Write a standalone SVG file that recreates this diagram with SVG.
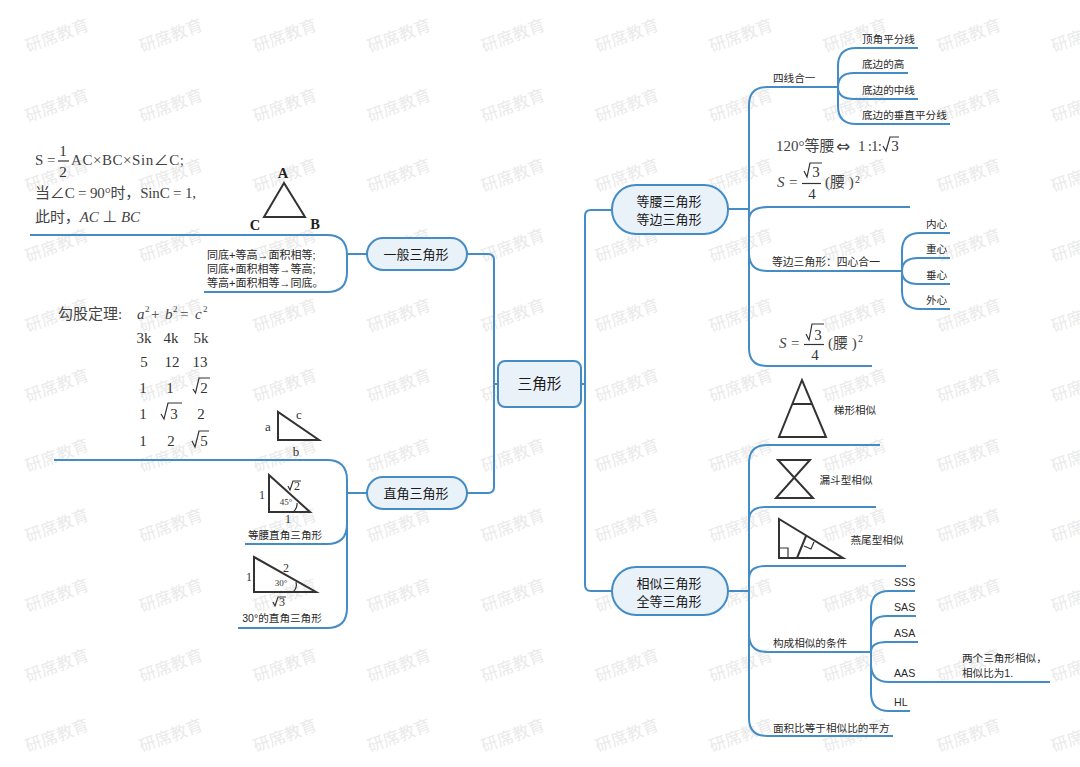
<svg xmlns="http://www.w3.org/2000/svg" width="1080" height="767" viewBox="0 0 1080 767">
<style>
text{font-family:"Liberation Sans","Noto Sans CJK SC",sans-serif;fill:#222}
.wm{font-size:16.5px;fill:#eaeaea;text-anchor:middle}
.n{fill:#e9f1f9;stroke:#438cc6;stroke-width:2}
.nt{font-size:13px;text-anchor:middle;fill:#1a1a1a}
.c{fill:none;stroke:#438cc6;stroke-width:2}
.t{font-size:10.6px;fill:#2a2a2a}
.tm{font-size:10.6px;fill:#2a2a2a;text-anchor:middle}
.m{font-family:"Liberation Serif","Noto Sans CJK SC",serif;font-size:15px;fill:#444}
.mc{font-family:"Liberation Serif","Noto Sans CJK SC",serif;font-size:15px;fill:#333;text-anchor:middle}
.i{font-style:italic}
.s{fill:none;stroke:#333;stroke-width:2}
.s1{fill:none;stroke:#333;stroke-width:1.2}
.l{font-family:"Liberation Serif",serif;font-size:12px;fill:#333;text-anchor:middle}
.b{font-family:"Liberation Serif",serif;font-size:14.5px;font-weight:bold;fill:#222;text-anchor:middle}
</style>
<rect width="1080" height="767" fill="#fff"/>
<g id="watermark" transform="translate(2,1)">
<text class="wm" transform="translate(57,40) rotate(-20)">研席教育</text><text class="wm" transform="translate(171,40) rotate(-20)">研席教育</text><text class="wm" transform="translate(285,40) rotate(-20)">研席教育</text><text class="wm" transform="translate(399,40) rotate(-20)">研席教育</text><text class="wm" transform="translate(513,40) rotate(-20)">研席教育</text><text class="wm" transform="translate(627,40) rotate(-20)">研席教育</text><text class="wm" transform="translate(741,40) rotate(-20)">研席教育</text><text class="wm" transform="translate(855,40) rotate(-20)">研席教育</text><text class="wm" transform="translate(969,40) rotate(-20)">研席教育</text><text class="wm" transform="translate(1083,40) rotate(-20)">研席教育</text>
<text class="wm" transform="translate(57,110) rotate(-20)">研席教育</text><text class="wm" transform="translate(171,110) rotate(-20)">研席教育</text><text class="wm" transform="translate(285,110) rotate(-20)">研席教育</text><text class="wm" transform="translate(399,110) rotate(-20)">研席教育</text><text class="wm" transform="translate(513,110) rotate(-20)">研席教育</text><text class="wm" transform="translate(627,110) rotate(-20)">研席教育</text><text class="wm" transform="translate(741,110) rotate(-20)">研席教育</text><text class="wm" transform="translate(855,110) rotate(-20)">研席教育</text><text class="wm" transform="translate(969,110) rotate(-20)">研席教育</text><text class="wm" transform="translate(1083,110) rotate(-20)">研席教育</text>
<text class="wm" transform="translate(57,180) rotate(-20)">研席教育</text><text class="wm" transform="translate(171,180) rotate(-20)">研席教育</text><text class="wm" transform="translate(285,180) rotate(-20)">研席教育</text><text class="wm" transform="translate(399,180) rotate(-20)">研席教育</text><text class="wm" transform="translate(513,180) rotate(-20)">研席教育</text><text class="wm" transform="translate(627,180) rotate(-20)">研席教育</text><text class="wm" transform="translate(741,180) rotate(-20)">研席教育</text><text class="wm" transform="translate(855,180) rotate(-20)">研席教育</text><text class="wm" transform="translate(969,180) rotate(-20)">研席教育</text><text class="wm" transform="translate(1083,180) rotate(-20)">研席教育</text>
<text class="wm" transform="translate(57,250) rotate(-20)">研席教育</text><text class="wm" transform="translate(171,250) rotate(-20)">研席教育</text><text class="wm" transform="translate(285,250) rotate(-20)">研席教育</text><text class="wm" transform="translate(399,250) rotate(-20)">研席教育</text><text class="wm" transform="translate(513,250) rotate(-20)">研席教育</text><text class="wm" transform="translate(627,250) rotate(-20)">研席教育</text><text class="wm" transform="translate(741,250) rotate(-20)">研席教育</text><text class="wm" transform="translate(855,250) rotate(-20)">研席教育</text><text class="wm" transform="translate(969,250) rotate(-20)">研席教育</text><text class="wm" transform="translate(1083,250) rotate(-20)">研席教育</text>
<text class="wm" transform="translate(57,320) rotate(-20)">研席教育</text><text class="wm" transform="translate(171,320) rotate(-20)">研席教育</text><text class="wm" transform="translate(285,320) rotate(-20)">研席教育</text><text class="wm" transform="translate(399,320) rotate(-20)">研席教育</text><text class="wm" transform="translate(513,320) rotate(-20)">研席教育</text><text class="wm" transform="translate(627,320) rotate(-20)">研席教育</text><text class="wm" transform="translate(741,320) rotate(-20)">研席教育</text><text class="wm" transform="translate(855,320) rotate(-20)">研席教育</text><text class="wm" transform="translate(969,320) rotate(-20)">研席教育</text><text class="wm" transform="translate(1083,320) rotate(-20)">研席教育</text>
<text class="wm" transform="translate(57,390) rotate(-20)">研席教育</text><text class="wm" transform="translate(171,390) rotate(-20)">研席教育</text><text class="wm" transform="translate(285,390) rotate(-20)">研席教育</text><text class="wm" transform="translate(399,390) rotate(-20)">研席教育</text><text class="wm" transform="translate(513,390) rotate(-20)">研席教育</text><text class="wm" transform="translate(627,390) rotate(-20)">研席教育</text><text class="wm" transform="translate(741,390) rotate(-20)">研席教育</text><text class="wm" transform="translate(855,390) rotate(-20)">研席教育</text><text class="wm" transform="translate(969,390) rotate(-20)">研席教育</text><text class="wm" transform="translate(1083,390) rotate(-20)">研席教育</text>
<text class="wm" transform="translate(57,460) rotate(-20)">研席教育</text><text class="wm" transform="translate(171,460) rotate(-20)">研席教育</text><text class="wm" transform="translate(285,460) rotate(-20)">研席教育</text><text class="wm" transform="translate(399,460) rotate(-20)">研席教育</text><text class="wm" transform="translate(513,460) rotate(-20)">研席教育</text><text class="wm" transform="translate(627,460) rotate(-20)">研席教育</text><text class="wm" transform="translate(741,460) rotate(-20)">研席教育</text><text class="wm" transform="translate(855,460) rotate(-20)">研席教育</text><text class="wm" transform="translate(969,460) rotate(-20)">研席教育</text><text class="wm" transform="translate(1083,460) rotate(-20)">研席教育</text>
<text class="wm" transform="translate(57,530) rotate(-20)">研席教育</text><text class="wm" transform="translate(171,530) rotate(-20)">研席教育</text><text class="wm" transform="translate(285,530) rotate(-20)">研席教育</text><text class="wm" transform="translate(399,530) rotate(-20)">研席教育</text><text class="wm" transform="translate(513,530) rotate(-20)">研席教育</text><text class="wm" transform="translate(627,530) rotate(-20)">研席教育</text><text class="wm" transform="translate(741,530) rotate(-20)">研席教育</text><text class="wm" transform="translate(855,530) rotate(-20)">研席教育</text><text class="wm" transform="translate(969,530) rotate(-20)">研席教育</text><text class="wm" transform="translate(1083,530) rotate(-20)">研席教育</text>
<text class="wm" transform="translate(57,600) rotate(-20)">研席教育</text><text class="wm" transform="translate(171,600) rotate(-20)">研席教育</text><text class="wm" transform="translate(285,600) rotate(-20)">研席教育</text><text class="wm" transform="translate(399,600) rotate(-20)">研席教育</text><text class="wm" transform="translate(513,600) rotate(-20)">研席教育</text><text class="wm" transform="translate(627,600) rotate(-20)">研席教育</text><text class="wm" transform="translate(741,600) rotate(-20)">研席教育</text><text class="wm" transform="translate(855,600) rotate(-20)">研席教育</text><text class="wm" transform="translate(969,600) rotate(-20)">研席教育</text><text class="wm" transform="translate(1083,600) rotate(-20)">研席教育</text>
<text class="wm" transform="translate(57,670) rotate(-20)">研席教育</text><text class="wm" transform="translate(171,670) rotate(-20)">研席教育</text><text class="wm" transform="translate(285,670) rotate(-20)">研席教育</text><text class="wm" transform="translate(399,670) rotate(-20)">研席教育</text><text class="wm" transform="translate(513,670) rotate(-20)">研席教育</text><text class="wm" transform="translate(627,670) rotate(-20)">研席教育</text><text class="wm" transform="translate(741,670) rotate(-20)">研席教育</text><text class="wm" transform="translate(855,670) rotate(-20)">研席教育</text><text class="wm" transform="translate(969,670) rotate(-20)">研席教育</text><text class="wm" transform="translate(1083,670) rotate(-20)">研席教育</text>
<text class="wm" transform="translate(57,740) rotate(-20)">研席教育</text><text class="wm" transform="translate(171,740) rotate(-20)">研席教育</text><text class="wm" transform="translate(285,740) rotate(-20)">研席教育</text><text class="wm" transform="translate(399,740) rotate(-20)">研席教育</text><text class="wm" transform="translate(513,740) rotate(-20)">研席教育</text><text class="wm" transform="translate(627,740) rotate(-20)">研席教育</text><text class="wm" transform="translate(741,740) rotate(-20)">研席教育</text><text class="wm" transform="translate(855,740) rotate(-20)">研席教育</text><text class="wm" transform="translate(969,740) rotate(-20)">研席教育</text><text class="wm" transform="translate(1083,740) rotate(-20)">研席教育</text>
</g>
<g id="connectors">
<path class="c" d="M467 254H488Q494 254 494 260V487Q494 493 488 493H467M494 384H498"/>
<path class="c" d="M581 384H585M612 210H591Q585 210 585 216V585Q585 591 591 591H612"/>
<path class="c" d="M347 254H367M30 235H327Q347 235 347 255V272Q347 292 327 292H204"/>
<path class="c" d="M347 493H367M54 460H327Q347 460 347 480V608Q347 628 327 628H238M347 524Q347 544 327 544H245"/>
<path class="c" d="M728 209H749M838 87H767Q749 87 749 105V348Q749 366 767 366H872M749 220Q749 207 768 207H910M749 253Q749 271 767 271H902"/>
<path class="c" d="M838 87V66Q838 48 856 48H918M838 87Q838 73 854 73H908M838 87Q838 99 854 99H918M838 87V106Q838 124 856 124H950"/>
<path class="c" d="M902 271V251Q902 233 920 233H950M902 271Q902 258 918 258H950M902 271Q902 284 918 284H950M902 271V291Q902 309 920 309H950"/>
<path class="c" d="M728 591H749M880 445H767Q749 445 749 463V718Q749 736 767 736H893M749 520Q749 507 766 507H876M749 579Q749 566 766 566H906M749 634Q749 652 767 652H871"/>
<path class="c" d="M871 652V609Q871 591 889 591H915M871 652V630Q871 616 887 616H916M871 652Q871 642 887 642H918M871 652V664Q871 682 889 682H1050M871 652V693Q871 711 889 711H910"/>
</g>
<g id="root"><rect class="n" x="498" y="361" width="83" height="46" rx="7"/><text class="nt" style="font-size:14.7px" x="539.5" y="389">三角形</text></g>
<g id="general"><rect class="n" x="367" y="238" width="100" height="32" rx="16"/><text class="nt" x="416" y="259">一般三角形</text></g>
<g id="right"><rect class="n" x="367" y="477" width="100" height="32" rx="16"/><text class="nt" x="416" y="498">直角三角形</text></g>
<g id="iso"><rect class="n" x="612" y="185" width="116" height="49" rx="24"/><text class="nt" x="669" y="206">等腰三角形</text><text class="nt" x="669" y="224">等边三角形</text></g>
<g id="sim"><rect class="n" x="612" y="567" width="116" height="48" rx="24"/><text class="nt" x="669" y="588">相似三角形</text><text class="nt" x="669" y="606">全等三角形</text></g>
<g id="general-notes">
<text class="m" x="35" y="165">S =</text><text class="mc" x="63" y="156">1</text><path class="s1" d="M58 161H69"/><text class="mc" x="63" y="177">2</text><text class="m" x="71" y="165" textLength="113">AC×BC×Sin∠C;</text>
<text class="m" x="35" y="198" textLength="161">当∠C = 90°时，SinC = 1,</text>
<text class="m" x="35" y="222" textLength="105">此时，<tspan class="i">AC</tspan> ⊥ <tspan class="i">BC</tspan></text>
<path class="s" d="M284 183L264 217H305Z"/>
<text class="b" x="283" y="178">A</text><text class="b" x="255" y="230">C</text><text class="b" x="315" y="229">B</text>
<text class="t" style="font-size:11px" x="207" y="259">同底+等高→面积相等;</text><text class="t" style="font-size:11px" x="207" y="273">同底+面积相等→等高;</text><text class="t" style="font-size:11px" x="207" y="287">等高+面积相等→同底。</text>
</g>
<g id="right-notes">
<text class="m" x="58" y="319">勾股定理:</text>
<text class="m i" x="137" y="319">a</text><text class="m" style="font-size:9px" x="145" y="312">2</text><text class="m" x="151" y="319">+</text><text class="m i" x="165" y="319">b</text><text class="m" style="font-size:9px" x="173" y="312">2</text><text class="m" x="180" y="319">=</text><text class="m i" x="195" y="319">c</text><text class="m" style="font-size:9px" x="203" y="312">2</text>
<text class="mc" x="144" y="343">3k</text><text class="mc" x="171" y="343">4k</text><text class="mc" x="201" y="343">5k</text>
<text class="mc" x="144" y="367">5</text><text class="mc" x="172" y="367">12</text><text class="mc" x="200" y="367">13</text>
<text class="mc" x="143" y="393">1</text><text class="mc" x="170" y="393">1</text><text class="mc" x="204" y="393">2</text><path class="s1" d="M193 389L195.500 393L199 378H210"/>
<text class="mc" x="143" y="419">1</text><text class="mc" x="174" y="419">3</text><text class="mc" x="201" y="419">2</text><path class="s1" d="M161 414L164 419L168 403H182"/>
<text class="mc" x="143" y="446">1</text><text class="mc" x="171" y="446">2</text><text class="mc" x="204" y="446">5</text><path class="s1" d="M192 441L195 447L199 431H209"/>
<path class="s" d="M278 412V440H319Z"/>
<text class="l" style="font-size:13px" x="268" y="431">a</text><text class="l" style="font-size:13px" x="299" y="419">c</text><text class="l" style="font-size:13px" x="296" y="456">b</text>
<path class="s" d="M269 475V512H310Z"/><path class="s1" d="M293 512A10 10 0 0 0 297 503"/>
<text class="l" x="262" y="499">1</text><text class="l" x="297" y="490">2</text><path class="s1" d="M288 486L290 490L293 481H301"/><text class="l" style="font-size:9px" x="286" y="505">45°</text><text class="l" x="288" y="523">1</text>
<text class="tm" x="285" y="539">等腰直角三角形</text>
<path class="s" d="M254 557V592H316Z"/><path class="s1" d="M293 592A10 10 0 0 0 296 582"/>
<text class="l" x="249" y="581">1</text><text class="l" x="286" y="572">2</text><text class="l" style="font-size:9px" x="281" y="586">30°</text>
<text class="l" x="282" y="606">3</text><path class="s1" d="M273 602L275 606L278 597H286"/>
<text class="tm" x="282" y="622">30°的直角三角形</text>
</g>
<g id="iso-notes">
<text class="t" x="773" y="82">四线合一</text>
<text class="t" x="862" y="43">顶角平分线</text><text class="t" x="862" y="68">底边的高</text><text class="t" x="862" y="94">底边的中线</text><text class="t" x="862" y="119">底边的垂直平分线</text>
<text class="m" x="776" y="151">120°等腰</text><text class="m" style="font-family:'DejaVu Sans',sans-serif;font-size:17px" x="836" y="152">⇔</text><text class="m" x="858" y="151" textLength="24">1 :1:</text><text class="mc" x="895" y="151">3</text><path class="s1" d="M883 146L886 151L890 137H899"/>
<text class="m i" x="777" y="187">S</text><text class="m" x="789" y="187">=</text><path class="s1" d="M802 183.500H821"/><text class="mc" x="816" y="177">3</text><path class="s1" d="M804 171L807 177L810 163H822"/><text class="mc" x="812" y="199">4</text><text class="m" x="825" y="187">(腰 )</text><text class="m" style="font-size:10px" x="855" y="183">2</text>
<text class="t" style="font-size:10.8px" x="772" y="266">等边三角形：四心合一</text>
<text class="t" x="926" y="228">内心</text><text class="t" x="926" y="253">重心</text><text class="t" x="926" y="279">垂心</text><text class="t" x="926" y="304">外心</text>
<text class="m i" x="779" y="348">S</text><text class="m" x="791" y="348">=</text><path class="s1" d="M804 344.500H824"/><text class="mc" x="818" y="340">3</text><path class="s1" d="M806 334L809 340L812 324H824"/><text class="mc" x="815" y="360">4</text><text class="m" x="828" y="348">(腰 )</text><text class="m" style="font-size:10px" x="858" y="342">2</text>
</g>
<g id="sim-notes">
<path class="s" d="M802 380L779 437H826ZM793 404H812"/>
<text class="tm" x="855" y="414">梯形相似</text>
<path class="s" d="M778 460H810L776 498H813Z"/>
<text class="tm" x="846" y="484">漏斗型相似</text>
<path class="s" d="M779 519V558H843ZM797 558L806 536"/><path class="s1" d="M779 548H788V558M804 546L811 549L814 542"/>
<text class="tm" x="877" y="544">燕尾型相似</text>
<text class="t" x="773" y="647">构成相似的条件</text>
<text class="t" x="894" y="586">SSS</text><text class="t" x="894" y="611">SAS</text><text class="t" x="894" y="637">ASA</text><text class="t" x="894" y="677">AAS</text><text class="t" x="894" y="706">HL</text>
<text class="t" x="962" y="662">两个三角形相似，</text><text class="t" x="962" y="677">相似比为1.</text>
<text class="t" x="773" y="732">面积比等于相似比的平方</text>
</g>
</svg>
